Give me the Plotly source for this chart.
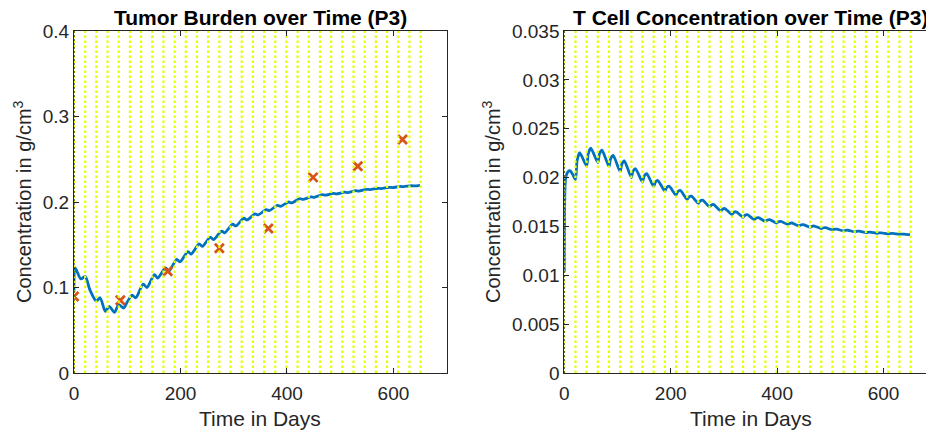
import plotly.graph_objects as go

# ---------------- data ----------------
dose_days = [0, 21, 42, 63, 84, 105, 126, 147, 168, 189, 210, 231, 252, 273,
             294, 315, 336, 357, 378, 399, 420, 441, 462, 483, 504, 525, 546,
             567, 588, 609, 630, 651]

obs_days = [0, 87, 176, 273, 365, 449, 533, 617]
obs_tumor = [0.0896, 0.085, 0.119, 0.146, 0.169, 0.2288, 0.2417, 0.273]

tumor_days = [0, 2, 13, 21, 30, 42, 49, 59, 66, 76, 84, 93, 100, 109, 116,
              130, 137, 151, 157, 172, 178, 193, 199, 214, 220, 235, 241,
              256, 262, 277, 283, 298, 304, 319, 325, 340, 346, 361, 367,
              382, 388, 403, 409, 424, 430, 445, 451, 466, 472, 487, 493,
              508, 514, 529, 535, 550, 556, 571, 577, 592, 598, 613, 619,
              634, 640, 650]
tumor_vals = [0.095, 0.123, 0.110, 0.113, 0.097, 0.084, 0.088, 0.072, 0.078,
              0.071, 0.080, 0.076, 0.083, 0.091, 0.088, 0.104, 0.100, 0.115,
              0.111, 0.123, 0.119, 0.133, 0.130, 0.142, 0.139, 0.151, 0.148,
              0.159, 0.156, 0.166, 0.164, 0.174, 0.172, 0.181, 0.179, 0.186,
              0.185, 0.191, 0.190, 0.196, 0.195, 0.200, 0.199, 0.204, 0.203,
              0.206, 0.2055, 0.2085, 0.208, 0.210, 0.2095, 0.2115, 0.211,
              0.2132, 0.2128, 0.2148, 0.2145, 0.216, 0.2157, 0.2172, 0.2169,
              0.2182, 0.2179, 0.219, 0.2188, 0.2195]

tcell_days = [0, 0.5, 1.5, 3, 7, 11, 16,
              21, 24, 29, 42, 45, 50, 63, 66, 71, 84, 87, 92,
              105, 108, 113, 126, 129, 134, 147, 150, 155, 168, 171, 176,
              189, 192, 197, 210, 213, 218, 231, 234, 239, 252, 255, 260,
              273, 276, 281, 294, 297, 302, 315, 318, 323, 336, 339, 344,
              357, 360, 365, 378, 381, 386, 399, 402, 407, 420, 423, 428,
              441, 444, 449, 462, 465, 470, 483, 486, 491, 504, 507, 512,
              525, 528, 533, 546, 549, 554, 567, 570, 575, 588, 591, 596,
              609, 612, 617, 630, 633, 638, 650]
tcell_vals = [0.0103, 0.0165, 0.0192, 0.0201, 0.0206, 0.0207, 0.0203,
              0.0198, 0.02173, 0.02255, 0.02117, 0.02245, 0.0230,
              0.02152, 0.02242, 0.0228, 0.0211, 0.02192, 0.02227,
              0.0206, 0.02137, 0.0217, 0.0200, 0.02063, 0.0209,
              0.01953, 0.02014, 0.0204, 0.01906, 0.01951, 0.0197,
              0.0186, 0.01896, 0.01912, 0.0182, 0.01854, 0.01868,
              0.01776, 0.0180, 0.0181, 0.01735, 0.01759, 0.01769,
              0.0170, 0.01717, 0.01724, 0.01656, 0.01675, 0.01683,
              0.01622, 0.01642, 0.0165, 0.01594, 0.01612, 0.0162,
              0.0157, 0.01584, 0.0159, 0.0155, 0.01564, 0.0157,
              0.01535, 0.01547, 0.01552, 0.0152, 0.0153, 0.01535,
              0.01505, 0.01514, 0.01518, 0.01492, 0.0150, 0.01504,
              0.01478, 0.01484, 0.01487, 0.01464, 0.0147, 0.01473,
              0.01453, 0.01459, 0.01461, 0.01444, 0.01449, 0.01451,
              0.01436, 0.0144, 0.01442, 0.0143, 0.01433, 0.01434,
              0.01424, 0.01427, 0.01428, 0.01419, 0.01421, 0.01422,
              0.01415]

titles = ["Tumor Burden over Time (P3)", "T Cell Concentration over Time (P3)"]
xlabel = "Time in Days"
ylabel = "Concentration in g/cm<sup>3</sup>"
x_ticks = [0, 200, 400, 600]
y_top = [0.4, 0.035]
y_dtick = [0.1, 0.005]

# ---------------- style ----------------
W, H = 934, 432
BLUE = "#0072BD"
ORANGE = "#D95319"
YELLOW = "#E4FF00"
AX = "#262626"
FONT = "Liberation Sans, Arial, Helvetica, sans-serif"

fig = go.Figure()

def vlines(top):
    xs, ys = [], []
    for d in dose_days:
        xs += [d, d, None]
        ys += [0, top, None]
    return xs, ys

# left panel
fig.add_trace(go.Scatter(x=tumor_days, y=tumor_vals, mode="lines",
                         line=dict(color=BLUE, width=2.8, shape="spline", smoothing=0.8),
                         xaxis="x", yaxis="y", showlegend=False))
fig.add_trace(go.Scatter(x=obs_days, y=obs_tumor, mode="markers",
                         marker=dict(symbol="x-thin-open", size=9, color=ORANGE,
                                     line=dict(color=ORANGE, width=2.8)),
                         xaxis="x", yaxis="y", showlegend=False))
xs, ys = vlines(y_top[0])
fig.add_trace(go.Scatter(x=xs, y=ys, mode="lines",
                         line=dict(color=YELLOW, width=2.2, dash="2.5px,2.5px"),
                         xaxis="x", yaxis="y", showlegend=False))
fig.add_trace(go.Scatter(x=[0, 0], y=[0, y_top[0]], mode="lines",
                         line=dict(color="black", width=1, dash="2px,2px"),
                         xaxis="x", yaxis="y", showlegend=False))

# right panel
fig.add_trace(go.Scatter(x=tcell_days, y=tcell_vals, mode="lines",
                         line=dict(color=BLUE, width=2.8, shape="spline", smoothing=0.6),
                         xaxis="x2", yaxis="y2", showlegend=False))
xs, ys = vlines(y_top[1])
fig.add_trace(go.Scatter(x=xs, y=ys, mode="lines",
                         line=dict(color=YELLOW, width=2.2, dash="2.5px,2.5px"),
                         xaxis="x2", yaxis="y2", showlegend=False))
fig.add_trace(go.Scatter(x=[0, 0], y=[0, y_top[1]], mode="lines",
                         line=dict(color="black", width=1, dash="2px,2px"),
                         xaxis="x2", yaxis="y2", showlegend=False))

# pixel geometry (page is offset by the 8px body margin)
OFF = 8.0
L1, R1 = 74.0 - OFF, 446.7 - OFF
L2, R2 = 564.3 - OFF, 936.7 - OFF
TOP, BOT = 31.0 - OFF, 373.0 - OFF

common_x = dict(ticks="inside", ticklen=5, tickcolor=AX, tickwidth=1,
                showline=True, linecolor=AX, linewidth=1, mirror="ticks",
                showgrid=False, zeroline=False, tickvals=x_ticks,
                tickfont=dict(family=FONT, size=19, color=AX),
                ticklabelstandoff=3, automargin=False)
common_y = dict(ticks="inside", ticklen=5, tickcolor=AX, tickwidth=1,
                showline=True, linecolor=AX, linewidth=1, mirror="ticks",
                showgrid=False, zeroline=False,
                tickfont=dict(family=FONT, size=19, color=AX),
                automargin=False)

ydom = [(H - BOT) / H, (H - TOP) / H]
fig.update_layout(
    width=W, height=H,
    margin=dict(l=0, r=0, t=0, b=0, pad=0, autoexpand=False),
    paper_bgcolor="white", plot_bgcolor="white",
    xaxis=dict(domain=[L1 / W, R1 / W], range=[0, 700], anchor="y", **common_x),
    yaxis=dict(domain=ydom, range=[0, y_top[0]], dtick=y_dtick[0], tick0=0,
               anchor="x", **common_y),
    xaxis2=dict(domain=[L2 / W, R2 / W], range=[0, 700], anchor="y2", **common_x),
    yaxis2=dict(domain=ydom, range=[0, y_top[1]], dtick=y_dtick[1], tick0=0,
                anchor="x2", **common_y),
)

ann = []
for i, (l, r) in enumerate([(L1, R1), (L2, R2)]):
    cx = (l + r) / 2 / W
    ann.append(dict(text="<b>%s</b>" % titles[i], x=cx, y=1 - 10 / H,
                    xref="paper", yref="paper", showarrow=False,
                    xanchor="center", yanchor="middle",
                    font=dict(family=FONT, size=21, color="black")))
    ann.append(dict(text=xlabel, x=cx, y=1 - 410 / H, xref="paper", yref="paper",
                    showarrow=False, xanchor="center", yanchor="middle",
                    font=dict(family=FONT, size=21, color=AX)))
yl_x = [14, 483]
for i in range(2):
    ann.append(dict(text=ylabel, x=yl_x[i] / W, y=1 - 194 / H, xref="paper",
                    yref="paper", showarrow=False, textangle=-90,
                    xanchor="center", yanchor="middle",
                    font=dict(family=FONT, size=20, color=AX)))
fig.update_layout(annotations=ann)

fig.write_html("out.html")
